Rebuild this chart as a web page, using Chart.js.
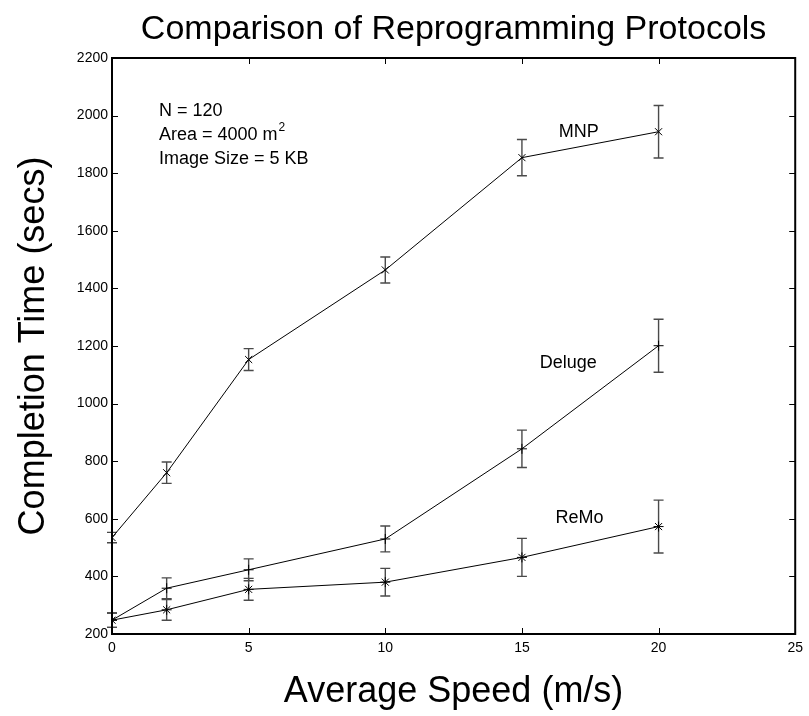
<!DOCTYPE html>
<html>
<head>
<meta charset="utf-8">
<title>Comparison of Reprogramming Protocols</title>
<script src="https://cdn.jsdelivr.net/npm/chart.js@4/dist/chart.umd.min.js"></script>
<style>
  html, body { margin: 0; padding: 0; background: #fff; }
  #wrap { width: 809px; height: 716px; position: relative; }
</style>
</head>
<body>
<div id="wrap"><canvas id="chart" width="809" height="716"></canvas></div>
<script>
// Average node speed (m/s)
const speeds = [0, 2, 5, 10, 15, 20];

// Mean completion time (secs) and half-width of the error bars
const mnpTime = [535, 760, 1153, 1464, 1854, 1944];
const mnpErr = [18, 37, 38, 45, 63, 91];
const delugeTime = [248, 359, 423, 530, 843, 1201];
const delugeErr = [25, 36, 38, 45, 65, 92];
const remoTime = [248, 284, 355, 380, 466, 573];
const remoErr = [25, 36, 38, 48, 66, 92];

// Axis ticks
const xTicks = [0, 5, 10, 15, 20, 25];
const yTicks = [200, 400, 600, 800, 1000, 1200, 1400, 1600, 1800, 2000, 2200];

// Curve names, placed in data coordinates next to their curves
const curveLabels = [
  { text: 'MNP', x: 16.35, y: 1943 },
  { text: 'Deluge', x: 15.65, y: 1142 },
  { text: 'ReMo', x: 16.23, y: 602 }
];

// Simulation parameters printed inside the axes
const infoAnchor = { x: 1.72, y: 2016 };

const FONT = '"Liberation Sans", Arial, Helvetica, sans-serif';

function points(ys, errs) {
  return speeds.map((s, i) => ({ x: s, y: ys[i], err: errs[i] }));
}

function series(label, ys, errs, style) {
  return {
    label,
    data: points(ys, errs),
    showLine: true,
    borderColor: '#000',
    borderWidth: 1,
    pointStyle: style,
    pointRadius: 5,
    pointHoverRadius: 5,
    pointBorderColor: '#000',
    pointBackgroundColor: '#000',
    pointBorderWidth: 1,
    tension: 0,
    fill: false
  };
}

// Vertical error bars with caps
const errorBars = {
  id: 'errorBars',
  beforeDatasetsDraw(chart) {
    const { ctx, scales: { x, y } } = chart;
    ctx.save();
    ctx.strokeStyle = '#4a4a4a';
    ctx.lineWidth = 1.4;
    chart.data.datasets.forEach(ds => {
      ds.data.forEach(p => {
        const px = x.getPixelForValue(p.x);
        const top = y.getPixelForValue(p.y + p.err);
        const bot = y.getPixelForValue(p.y - p.err);
        ctx.beginPath();
        ctx.moveTo(px, top); ctx.lineTo(px, bot);
        ctx.moveTo(px - 5, top); ctx.lineTo(px + 5, top);
        ctx.moveTo(px - 5, bot); ctx.lineTo(px + 5, bot);
        ctx.stroke();
      });
    });
    ctx.restore();
  }
};

// Box around the axes with inward tick marks on all four sides
const frame = {
  id: 'frame',
  afterDraw(chart) {
    const { ctx, chartArea: a, scales: { x, y } } = chart;
    ctx.save();
    ctx.strokeStyle = '#000';
    ctx.lineWidth = 1;
    const len = 6;
    ctx.beginPath();
    xTicks.forEach(v => {
      const px = Math.round(x.getPixelForValue(v)) + 0.5;
      ctx.moveTo(px, a.bottom); ctx.lineTo(px, a.bottom - len);
      ctx.moveTo(px, a.top); ctx.lineTo(px, a.top + len);
    });
    yTicks.forEach(v => {
      const py = Math.round(y.getPixelForValue(v)) + 0.5;
      ctx.moveTo(a.left, py); ctx.lineTo(a.left + len, py);
      ctx.moveTo(a.right, py); ctx.lineTo(a.right - len, py);
    });
    ctx.stroke();
    ctx.lineWidth = 2;
    ctx.strokeRect(a.left, a.top, a.right - a.left, a.bottom - a.top);
    ctx.restore();
  }
};

// Title, curve names and the parameter block
const texts = {
  id: 'texts',
  afterDraw(chart) {
    const { ctx, chartArea: a, scales: { x, y } } = chart;
    ctx.save();
    ctx.fillStyle = '#000';

    ctx.font = '34px ' + FONT;
    ctx.textAlign = 'center';
    ctx.textBaseline = 'middle';
    ctx.fillText('Comparison of Reprogramming Protocols', (a.left + a.right) / 2, 30);

    ctx.font = '18px ' + FONT;
    ctx.textAlign = 'left';
    curveLabels.forEach(l => {
      ctx.fillText(l.text, x.getPixelForValue(l.x), y.getPixelForValue(l.y));
    });

    const ix = x.getPixelForValue(infoAnchor.x);
    const iy = y.getPixelForValue(infoAnchor.y);
    const gap = 24;
    ctx.fillText('N = 120', ix, iy);
    const areaText = 'Area = 4000 m';
    ctx.fillText(areaText, ix, iy + gap);
    const w = ctx.measureText(areaText).width;
    ctx.font = '12px ' + FONT;
    ctx.fillText('2', ix + w + 1, iy + gap - 7);
    ctx.font = '18px ' + FONT;
    ctx.fillText('Image Size = 5 KB', ix, iy + 2 * gap);
    ctx.restore();
  }
};

new Chart(document.getElementById('chart'), {
  type: 'scatter',
  data: {
    datasets: [
      series('MNP', mnpTime, mnpErr, 'crossRot'),
      series('Deluge', delugeTime, delugeErr, 'cross'),
      series('ReMo', remoTime, remoErr, 'star')
    ]
  },
  options: {
    responsive: false,
    animation: false,
    devicePixelRatio: 1,
    layout: { padding: { left: 0, top: 58, right: 12, bottom: 0 } },
    plugins: {
      legend: { display: false },
      tooltip: { enabled: false },
      title: { display: false }
    },
    scales: {
      x: {
        type: 'linear',
        min: 0,
        max: 25,
        afterFit(scale) { scale.height = 82; },
        afterBuildTicks(scale) { scale.ticks = xTicks.map(v => ({ value: v })); },
        grid: { display: false, drawTicks: false },
        border: { display: false },
        ticks: {
          color: '#000', font: { family: FONT, size: 14 }, padding: 6, maxRotation: 0,
          callback: v => String(v)
        },
        title: {
          display: true,
          text: 'Average Speed (m/s)',
          color: '#000',
          font: { family: FONT, size: 36, lineHeight: 1.2 },
          padding: { top: 0, bottom: 2 }
        }
      },
      y: {
        type: 'linear',
        min: 200,
        max: 2200,
        afterFit(scale) { scale.width = 112; },
        afterBuildTicks(scale) { scale.ticks = yTicks.map(v => ({ value: v })); },
        grid: { display: false, drawTicks: false },
        border: { display: false },
        ticks: {
          color: '#000', font: { family: FONT, size: 14 }, padding: 4,
          callback: v => String(v)
        },
        title: {
          display: true,
          text: 'Completion Time (secs)',
          color: '#000',
          font: { family: FONT, size: 36, lineHeight: 1.2 },
          padding: { top: 12, bottom: 0 }
        }
      }
    }
  },
  plugins: [errorBars, frame, texts]
});
</script>
</body>
</html>
